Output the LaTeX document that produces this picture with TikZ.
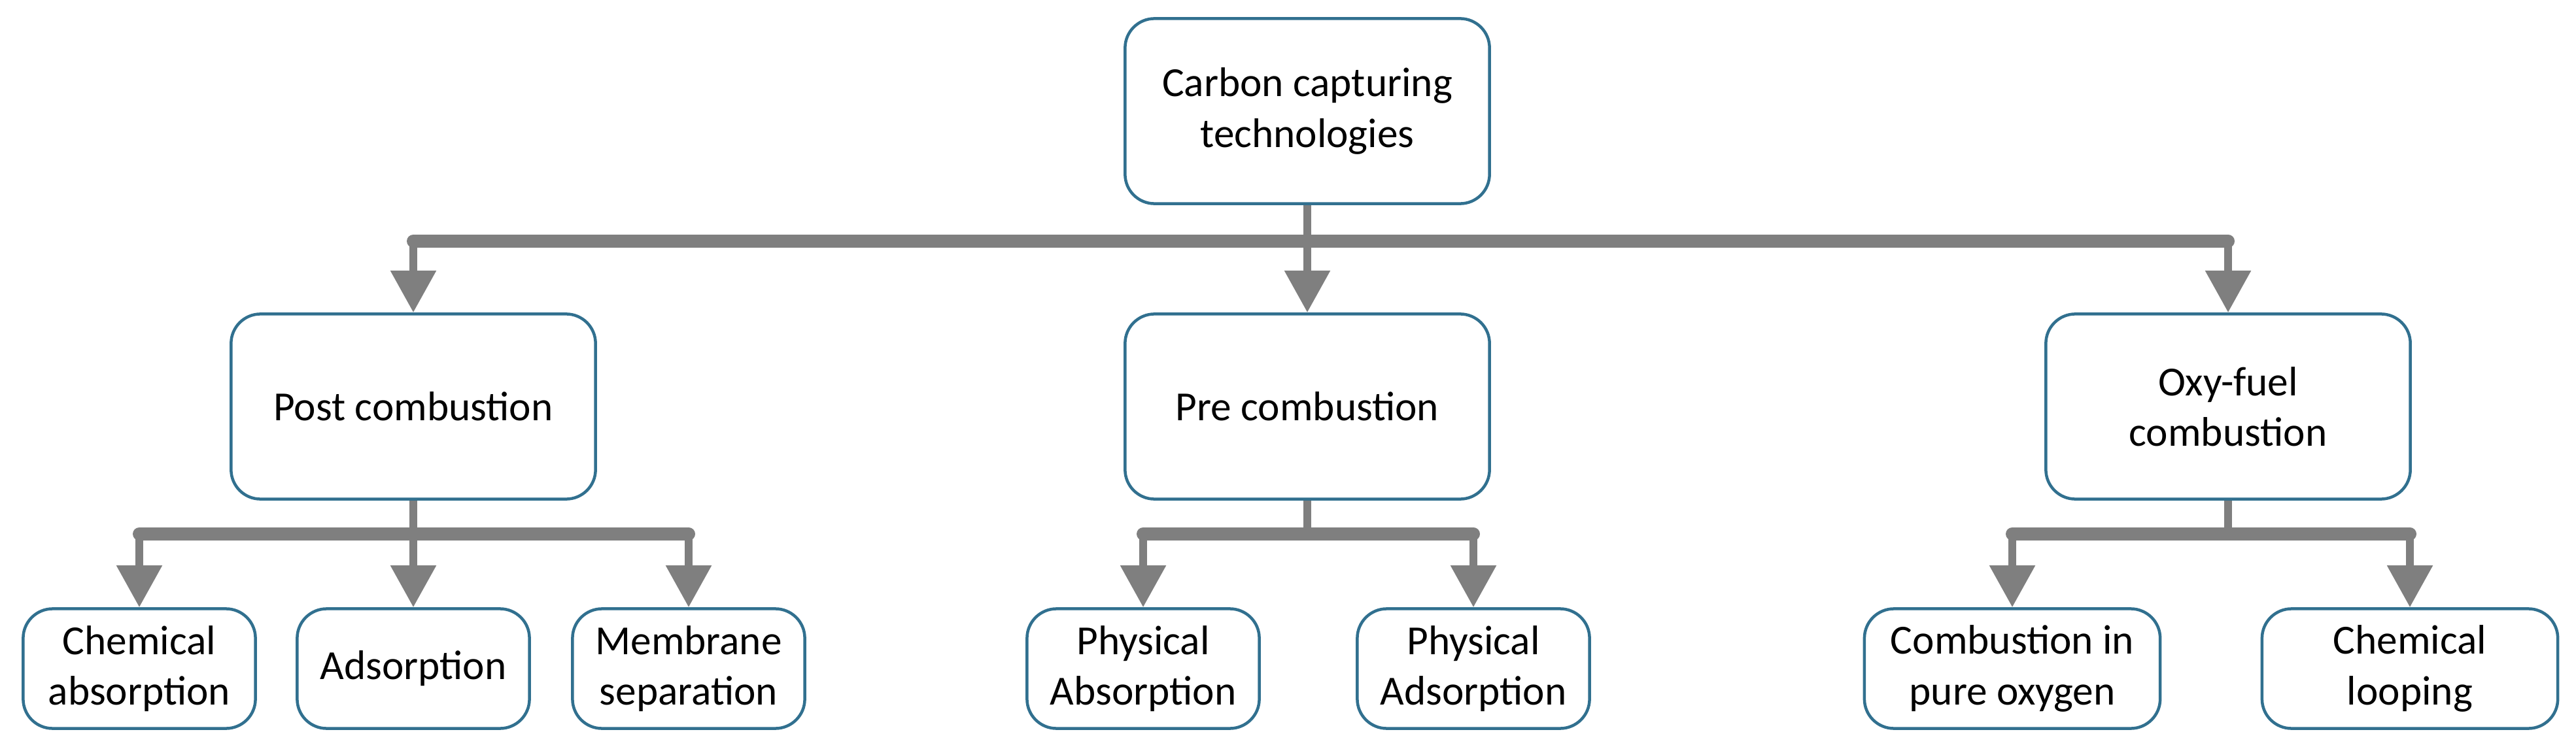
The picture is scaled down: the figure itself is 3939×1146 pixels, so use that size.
\documentclass[tikz,border=0pt]{standalone}
\usepackage{fontspec}
\setmainfont{Carlito}
\usetikzlibrary{arrows.meta}
\definecolor{bord}{HTML}{31708F}
\definecolor{conn}{HTML}{7F7F7F}
\begin{document}
\begin{tikzpicture}[x=0.01cm,y=-0.01cm,
  box/.style={draw=bord,line width=0.045cm,rounded corners=0.45cm,fill=white,align=center,font=\fontsize{18}{22}\selectfont,inner sep=0pt},
  big/.style={box,minimum width=5.57cm,minimum height=2.83cm},
  small/.style={box,minimum width=3.55cm,minimum height=1.83cm},
  bar/.style={draw=conn,line width=0.2cm,line cap=round},
  stem/.style={draw=conn,line width=0.12cm},
  arr/.style={stem,-{Triangle[width=0.67cm,length=0.64cm]}}]
\useasboundingbox (0,0) rectangle (3939,1146);
\node[big] (top) at (1999,170) {Carbon capturing\\technologies};
\node[big] (post) at (632,622) {Post combustion};
\node[big] (pre) at (1999,622) {Pre combustion};
\node[big] (oxy) at (3407,622) {Oxy-fuel\\combustion};
\node[small] (chem) at (213,1023) {Chemical\\absorption};
\node[small] (ads) at (632,1023) {Adsorption};
\node[small] (mem) at (1053,1023) {Membrane\\separation};
\node[small] (pabs) at (1748,1023) {Physical\\Absorption};
\node[small] (pads) at (2253,1023) {Physical\\Adsorption};
\node[small,minimum width=4.52cm] (pure) at (3077,1023) {Combustion in\\pure oxygen};
\node[small,minimum width=4.52cm] (loop) at (3685,1023) {Chemical\\looping};
% level 1
\coordinate (b1l) at (632,369); \coordinate (b1m) at (1999,369); \coordinate (b1r) at (3407,369);
\draw[stem] (top.south) -- (b1m);
\draw[bar] (b1l) -- (b1r);
\draw[arr] (b1l) -- (post.north);
\draw[arr] (b1m) -- (pre.north);
\draw[arr] (b1r) -- (oxy.north);
% post
\coordinate (p1) at (213,817); \coordinate (p2) at (632,817); \coordinate (p3) at (1053,817);
\draw[stem] (post.south) -- (p2);
\draw[bar] (p1) -- (p3);
\draw[arr] (p1) -- (chem.north);
\draw[arr] (p2) -- (ads.north);
\draw[arr] (p3) -- (mem.north);
% pre
\coordinate (q1) at (1748,817); \coordinate (q2) at (1999,817); \coordinate (q3) at (2253,817);
\draw[stem] (pre.south) -- (q2);
\draw[bar] (q1) -- (q3);
\draw[arr] (q1) -- (pabs.north);
\draw[arr] (q3) -- (pads.north);
% oxy
\coordinate (o1) at (3077,817); \coordinate (o2) at (3407,817); \coordinate (o3) at (3685,817);
\draw[stem] (oxy.south) -- (o2);
\draw[bar] (o1) -- (o3);
\draw[arr] (o1) -- (pure.north);
\draw[arr] (o3) -- (loop.north);
\end{tikzpicture}
\end{document}
